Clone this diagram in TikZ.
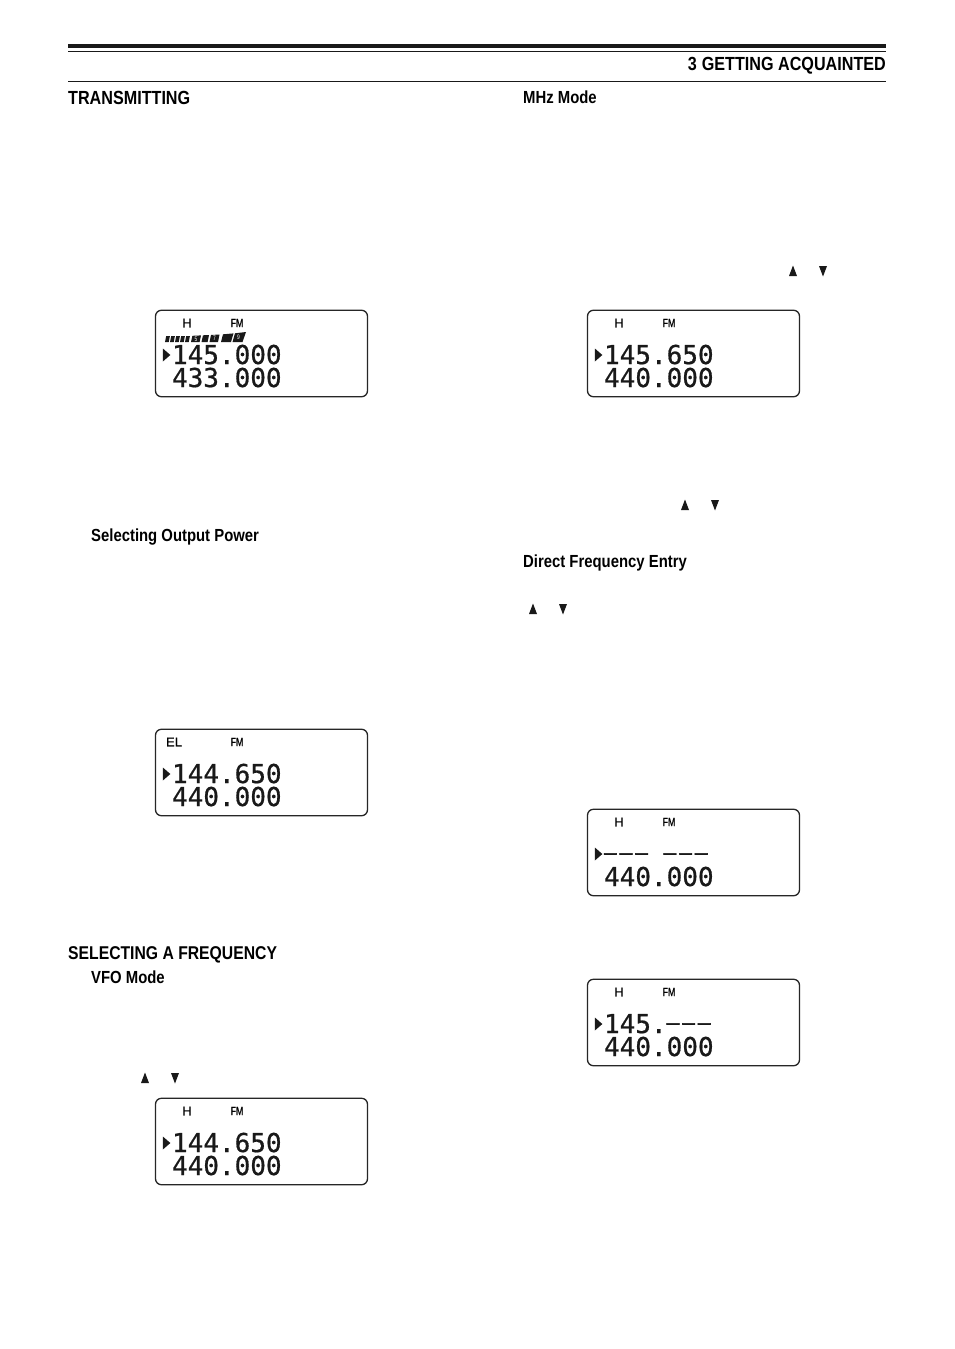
\documentclass[tikz,border=0pt]{standalone}
\usepackage{fontspec}
\setmainfont{Liberation Sans}
\newfontfamily\headfont[FakeStretch=0.85]{Liberation Sans Bold}
\newfontfamily\lcdfont[FakeBold=0.7]{DejaVu Sans Mono}
\newfontfamily\lcddashfont[FakeBold=2,LetterSpace=14.3]{DejaVu Sans Mono}
\newfontfamily\flagfont[FakeStretch=0.75]{Liberation Sans}
\newfontfamily\powerfont[FakeBold=0.5]{Liberation Sans}
\newfontfamily\modefont[FakeStretch=0.72,FakeBold=0.6]{Liberation Sans}
\newcommand\lcddash[1]{{\lcddashfont\fontsize{21}{28}\selectfont\raisebox{3.2pt}{#1}}}
\tikzset{
  heading/.style={anchor=west,inner sep=0pt,font=\headfont\fontsize{19}{22}\selectfont,text=black},
  subheading/.style={anchor=west,inner sep=0pt,font=\headfont\fontsize{17.5}{20}\selectfont,text=black},
  screen/.style={draw=black!85,line width=1.3pt,rounded corners=6pt,minimum width=212pt,minimum height=86.5pt,inner sep=0pt,fill=white},
  digits/.style={anchor=west,inner sep=0pt,text height=19pt,text depth=0pt,font=\lcdfont\fontsize{26}{28}\selectfont,text=black!90},
  flag/.style={inner sep=0pt,font=\powerfont\fontsize{13}{14}\selectfont,text=black},
  mode/.style={inner sep=0pt,font=\modefont\fontsize{12}{13}\selectfont,text=black},
  metertext/.style={inner sep=0pt,text=white,font=\flagfont\fontsize{6.5}{7}\selectfont},
  pointer/.style={fill=black!90,draw=none},
  key/.style={fill=black!90,draw=none},
  rule/.style={draw=black!90}
}
% name, centre x, centre y, power flag, line 1, line 2, power flag x
\newcommand\lcdscreen[7]{%
  \node[screen] (#1) at (#2,#3) {};
  \node[flag] (#1p) at ([shift={(#7,-30.5)}]#1.center) {#4};
  \node[mode] (#1m) at ([shift={(-24.5,-30.5)}]#1.center) {FM};
  \node[digits] (#1a) at ([shift={(17,1)}]#1.west) {#5};
  \node[digits] (#1b) at ([shift={(17,24)}]#1.west) {#6};
  \fill[pointer] ([shift={(8,-5)}]#1.west) -- ([shift={(15.5,1.5)}]#1.west) -- ([shift={(8,8)}]#1.west) -- cycle;
}
\newcommand\keypair[3]{%
  \coordinate (#1u) at (#2,#3);
  \coordinate (#1d) at (#2+30,#3);
  \fill[key] ([shift={(-4,5)}]#1u) -- ([shift={(4,5)}]#1u) -- ([shift={(0,-5.5)}]#1u) -- cycle;
  \fill[key] ([shift={(-4,-5)}]#1d) -- ([shift={(4,-5)}]#1d) -- ([shift={(0,5.5)}]#1d) -- cycle;
}
\begin{document}
\begin{tikzpicture}[x=1pt,y=-1pt]
\useasboundingbox (0,0) rectangle (954,1349);
\fill[white] (0,0) rectangle (954,1349);
% page header rules
\fill[black!90] (68,44) rectangle (886,48);
\draw[rule,line width=0.9pt] (68,51) -- (886,51);
\draw[rule,line width=0.9pt] (68,81.8) -- (886,81.8);
% headings
\node[heading,anchor=east] (chapter) at (886,66) {3\hspace{5pt}GETTING ACQUAINTED};
\node[heading] (transmitting) at (68,97.5) {TRANSMITTING};
\node[subheading] (mhz) at (523,97.5) {MHz Mode};
\node[subheading] (power) at (91,537.5) {Selecting Output Power};
\node[subheading] (direct) at (523,562.5) {Direct Frequency Entry};
\node[heading,font=\headfont\fontsize{18.5}{22}\selectfont] (selecting) at (68,955) {SELECTING A FREQUENCY};
\node[subheading] (vfo) at (91,977.5) {VFO Mode};
% screens
\lcdscreen{s1}{261.5}{353.5}{H}{145.000}{433.000}{-74.5}
\lcdscreen{s2}{693.5}{353.5}{H}{145.650}{440.000}{-74.5}
\lcdscreen{s3}{261.5}{772.5}{EL}{144.650}{440.000}{-87.5}
\lcdscreen{s4}{261.5}{1141.5}{H}{144.650}{440.000}{-74.5}
\lcdscreen{s5}{693.5}{852.5}{H}{\lcddash{––– –––}}{440.000}{-74.5}
\lcdscreen{s6}{693.5}{1022.5}{H}{145.\lcddash{–––}}{440.000}{-74.5}
% S-meter in first screen
\foreach \x in {165,170,175,180,185}
  \fill[black!90] (\x,342) -- (\x+1.2,336) -- (\x+4.9,336) -- (\x+3.7,342) -- cycle;
\fill[black!90] (191,342) -- (192.4,335.8) -- (201,335.4) -- (199.6,342) -- cycle;
\fill[black!90] (201.5,342) -- (203,335.3) -- (209,335) -- (207.6,342) -- cycle;
\fill[black!90] (209.5,342) -- (211,335) -- (219.5,334.5) -- (218,342) -- cycle;
\fill[black!90] (221,342) -- (223,334.3) -- (233.5,333.4) -- (231,342) -- cycle;
\fill[black!90] (232.5,342) -- (235,333.3) -- (246,332) -- (242.5,342) -- cycle;
\node[metertext] (m5) at (196,338.8) {5};
\node[metertext] (m7) at (214.5,338.5) {7};
\node[metertext] (m9) at (238.5,337.5) {9};
% arrow keys in running text
\keypair{k1}{793}{271}
\keypair{k2}{685}{505}
\keypair{k3}{533}{609}
\keypair{k4}{145}{1078}
\end{tikzpicture}
\end{document}
